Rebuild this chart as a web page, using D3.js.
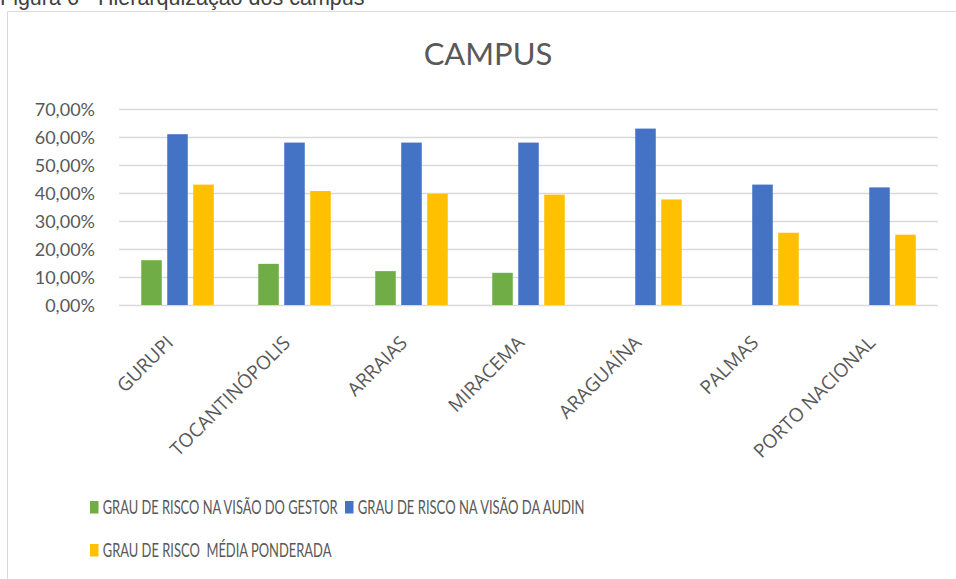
<!DOCTYPE html>
<html><head><meta charset="utf-8">
<script src="https://cdn.jsdelivr.net/npm/d3@7"></script>
<style>
html,body{margin:0;padding:0;background:#fff;overflow:hidden}
svg{display:block}
text{font-family:Lato,"Open Sans",sans-serif;fill:#595959}
</style></head>
<body>
<svg id="c" width="956" height="579"></svg>
<script>
const categories = ["GURUPI","TOCANTINÓPOLIS","ARRAIAS","MIRACEMA","ARAGUAÍNA","PALMAS","PORTO NACIONAL"];
const seriesNames = ["GRAU DE RISCO NA VISÃO DO GESTOR","GRAU DE RISCO NA VISÃO DA AUDIN","GRAU DE RISCO  MÉDIA PONDERADA"];
const gestor = [0.16, 0.147, 0.121, 0.115, null, null, null];
const audin  = [0.61, 0.58, 0.58, 0.58, 0.63, 0.43, 0.42];
const media  = [0.43, 0.407, 0.397, 0.394, 0.377, 0.258, 0.251];
const colors = ["#70ad47","#4472c4","#ffc000"];
const yTicks = [0,0.1,0.2,0.3,0.4,0.5,0.6,0.7];

const series = [gestor, audin, media];
const svg = d3.select("#c");

// caption (cut off at top)
svg.append("text").attr("x",0).attr("y",5)
  .style("font-family","'Liberation Sans',Arial,sans-serif").style("font-size","21.5px").style("fill","#404040")
  .text("Figura 6 - Hierarquização dos campus");

// chart border
svg.append("path").attr("d","M7.5,579 L7.5,11.5 L956,11.5")
  .attr("fill","none").attr("stroke","#d9d9d9").attr("stroke-width",1);

const x0 = d3.scaleBand().domain(categories).range([119,938]).paddingInner(0).paddingOuter(0);
const y = d3.scaleLinear().domain([0,0.7]).range([305,109]);
const x1 = d3.scaleBand().domain([0,1,2]).range([0, 72.5]).paddingInner(0.21).paddingOuter(0);

// gridlines
svg.append("g").selectAll("line").data(yTicks).join("line")
  .attr("x1",119).attr("x2",938)
  .attr("y1",d=>Math.round(y(d))+0.5).attr("y2",d=>Math.round(y(d))+0.5)
  .attr("stroke","#d9d9d9").attr("stroke-width",1.3);

// y axis labels
const fmt = d => (d*100).toFixed(2).replace(".",",")+"%";
const yAxis = d3.axisLeft(y).tickValues(yTicks).tickFormat(fmt).tickSize(0).tickPadding(0);
const ya = svg.append("g").attr("transform","translate(95,0)").call(yAxis);
ya.select(".domain").remove();
ya.selectAll("text").style("font-family","Lato,'Open Sans',sans-serif").style("font-size","18px").attr("fill","#595959").attr("dy","0.34em");

// bars
const groups = svg.append("g").selectAll("g").data(categories).join("g")
  .attr("transform",d=>`translate(${x0(d)+x0.bandwidth()/2-36.25},0)`);
groups.selectAll("rect").data((c,i)=>series.map((s,k)=>({k,v:s[i]})).filter(d=>d.v!=null)).join("rect")
  .attr("x",d=>x1(d.k)).attr("width",x1.bandwidth())
  .attr("y",d=>y(d.v)).attr("height",d=>y(0)-y(d.v))
  .attr("fill",d=>colors[d.k]);

// x axis labels
const xAxis = d3.axisBottom(x0).tickSize(0).tickPadding(0);
const xa = svg.append("g").attr("transform","translate(0,305)").call(xAxis);
xa.select(".domain").remove();
xa.selectAll("text")
  .style("font-family","'Open Sans',Lato,sans-serif").style("font-size","19px").attr("fill","#595959")
  .attr("text-anchor","end").attr("dy",null).attr("y",0)
  .attr("transform","translate(-3,39) rotate(-45)");

// title
svg.append("text").attr("x",488).attr("y",65).attr("text-anchor","middle")
  .style("font-size","31px").attr("fill","#595959").text("CAMPUS");

// legend
const legPos = [[90,507],[345,507],[90,550]];
const legLen = [235, 227, 229];
const leg = svg.append("g").selectAll("g").data(seriesNames).join("g")
  .attr("transform",(d,i)=>`translate(${legPos[i][0]},${legPos[i][1]})`);
leg.append("rect").attr("x",0).attr("y",-6).attr("width",8.5).attr("height",12.5).attr("fill",(d,i)=>colors[i]);
leg.append("text").attr("x",0).attr("y",0).attr("dy","0.36em")
  .style("font-size","20px").style("white-space","pre").attr("fill","#595959").text(d=>d)
  .each(function(d,i){
    const w = this.getComputedTextLength();
    d3.select(this).attr("transform",`translate(12.7,0) scale(${legLen[i]/w},1)`);
  });
</script>
</body></html>
